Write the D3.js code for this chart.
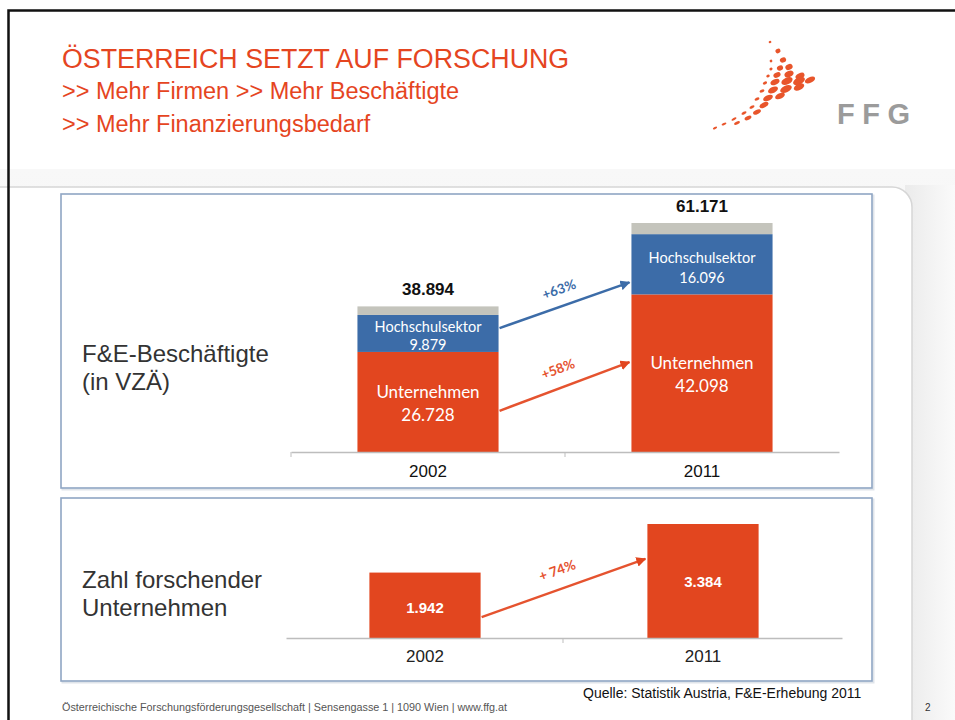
<!DOCTYPE html>
<html>
<head>
<meta charset="utf-8">
<title>Österreich setzt auf Forschung</title>
<script src="https://d3js.org/d3.v7.min.js"></script>
<style>
  body { margin: 0; background: #fff; }
  svg text { font-family: "Liberation Sans", Arial, sans-serif; }
  .cal { font-family: Lato, "Open Sans", sans-serif !important; }
</style>
</head>
<body>
<script>
// ---- data ----
var years = ["2002", "2011"];
var unternehmen = [26728, 42098];
var hochschule = [9879, 16096];
var totals = [38894, 61171];
var firmen = [1942, 3384];
// arrow anchors (value at left bar edge -> value at right bar edge)
var arrowHS = [33100, 45300];
var arrowUN = [11000, 24000];
var arrowFI = [620, 2350];

var W = 955, H = 720;
var red = "#e2461f", blue = "#3c6ca8", grey = "#c4c4bc";

var svg = d3.select("body").append("svg")
    .attr("width", W).attr("height", H);

var defs = svg.append("defs");
var g1 = defs.append("linearGradient").attr("id", "bgband").attr("x1", 0).attr("y1", 0).attr("x2", 0).attr("y2", 1);
g1.append("stop").attr("offset", 0).attr("stop-color", "#f8f8f8");
g1.append("stop").attr("offset", 1).attr("stop-color", "#ebebeb");
var g2 = defs.append("linearGradient").attr("id", "rside").attr("x1", 0).attr("y1", 0).attr("x2", 1).attr("y2", 0);
g2.append("stop").attr("offset", 0).attr("stop-color", "#ebebeb");
g2.append("stop").attr("offset", 1).attr("stop-color", "#fafafa");
["ah-blue", "ah-red"].forEach(function (id, i) {
  defs.append("marker").attr("id", id)
    .attr("viewBox", "0 0 10 10").attr("refX", 9).attr("refY", 5)
    .attr("markerWidth", 4).attr("markerHeight", 4).attr("orient", "auto")
    .append("path").attr("d", "M0,0L10,5L0,10z").attr("fill", i ? red : blue);
});

// ---- slide background ----
svg.append("rect").attr("x", 0).attr("y", 169).attr("width", W).attr("height", 551).attr("fill", "url(#bgband)");
svg.append("rect").attr("x", 905).attr("y", 185).attr("width", 50).attr("height", H - 185).attr("fill", "url(#rside)");
svg.append("rect").attr("x", -30).attr("y", 187).attr("width", 942).attr("height", 600).attr("rx", 20)
    .attr("fill", "#fff").attr("stroke", "#d6d6d6").attr("stroke-width", 1.5);

// black frame
svg.append("path").attr("d", "M8.5,720V10.5H955").attr("fill", "none").attr("stroke", "#111").attr("stroke-width", 2.5);

// ---- title ----
var title = svg.append("g").attr("fill", "#e5451f");
title.append("text").attr("x", 62).attr("y", 68).attr("font-size", 26.8).text("ÖSTERREICH SETZT AUF FORSCHUNG");
title.append("text").attr("x", 62).attr("y", 99).attr("font-size", 23.5).text(">> Mehr Firmen >> Mehr Beschäftigte");
title.append("text").attr("x", 62).attr("y", 132).attr("font-size", 23.5).text(">> Mehr Finanzierungsbedarf");

// ---- logo ----
var logoDots = [
  [770, 42, 1.4, 1.2], [778, 51, 2.6, 2.2], [771, 61, 1.4, 1.3], [783, 60, 3.2, 2.6],
  [771, 69, 1.6, 1.4], [780, 68, 3.2, 2.5], [789, 67, 3.8, 2.8],
  [768, 76, 1.8, 1.4], [777, 75, 3.8, 2.5], [789, 74, 4.8, 3], [800, 76, 4.8, 2.8],
  [765, 83, 2.2, 1.5], [775, 82, 4.8, 2.7], [787, 81, 6, 3.4], [799, 81, 6.3, 3.5], [810, 80, 5.5, 2.8],
  [762, 91, 2.5, 1.5], [773, 90, 5.3, 2.9], [786, 89, 6.2, 3.4], [799, 87, 5.6, 3.1],
  [757, 99, 2.6, 1.5], [768, 98, 5.2, 2.8], [780, 96, 5.2, 2.8],
  [752, 107, 2.7, 1.4], [764, 105, 4.8, 2.5],
  [744, 113, 2.7, 1.3], [757, 112, 4.2, 2.1],
  [734, 119, 2.7, 1.2], [748, 118, 3.7, 1.8],
  [724, 124, 2.6, 1.1], [737, 123, 3.2, 1.5], [715, 128, 2.3, 1]
];
svg.append("g").selectAll("ellipse").data(logoDots).join("ellipse")
  .attr("cx", function (d) { return d[0]; }).attr("cy", function (d) { return d[1]; })
  .attr("rx", function (d) { return d[2]; }).attr("ry", function (d) { return d[3]; })
  .attr("transform", function (d) { return "rotate(-25," + d[0] + "," + d[1] + ")"; })
  .attr("fill", "#e8552b");
svg.append("text").attr("x", 837).attr("y", 124).attr("font-size", 29).attr("font-weight", "bold")
  .attr("letter-spacing", 7.5).attr("fill", "#9b9b9b").text("FFG");

// ---- panel boxes ----
function box(x, y, w, h) {
  svg.append("rect").attr("x", x + 1.5).attr("y", y + 1.5).attr("width", w).attr("height", h)
    .attr("fill", "none").attr("stroke", "#dfe4ea").attr("stroke-width", 2);
  svg.append("rect").attr("x", x).attr("y", y).attr("width", w).attr("height", h)
    .attr("fill", "#fff").attr("stroke", "#8fa6c4").attr("stroke-width", 1.6);
}
box(61, 194, 811, 294);
box(61, 498, 811, 183);

// ---- top chart: F&E-Beschäftigte ----
var x1 = d3.scaleBand().domain(years).range([291, 839]).paddingInner(0.485).paddingOuter(0.2425);
var y1 = d3.scaleLinear().domain([0, 61171]).range([452, 223]);

var stack = years.map(function (yr, i) {
  return [
    { key: "un", y0: 0, y1: unternehmen[i], c: red },
    { key: "hs", y0: unternehmen[i], y1: unternehmen[i] + hochschule[i], c: blue },
    { key: "so", y0: unternehmen[i] + hochschule[i], y1: totals[i], c: grey }
  ].map(function (s) { s.year = yr; return s; });
});
svg.append("g").selectAll("rect").data(d3.merge(stack)).join("rect")
  .attr("x", function (d) { return x1(d.year); })
  .attr("width", x1.bandwidth())
  .attr("y", function (d) { return y1(d.y1); })
  .attr("height", function (d) { return y1(d.y0) - y1(d.y1); })
  .attr("fill", function (d) { return d.c; });

var ax1 = svg.append("g").attr("transform", "translate(0," + y1(0) + ")")
  .call(d3.axisBottom(x1).tickSize(0).tickPadding(13));
ax1.select(".domain").attr("stroke", "#bdbdbd").attr("stroke-width", 1.5);
ax1.selectAll("text").attr("font-size", 17).attr("fill", "#111")
  .attr("font-family", "'Liberation Sans', Arial, sans-serif");
ax1.selectAll(".sep").data([291, 565]).join("line").attr("class", "sep")
  .attr("x1", function (d) { return d; }).attr("x2", function (d) { return d; })
  .attr("y1", 0).attr("y2", 5).attr("stroke", "#bdbdbd");

// totals
svg.append("g").selectAll("text").data(totals).join("text")
  .attr("x", function (d, i) { return x1(years[i]) + x1.bandwidth() / 2; })
  .attr("y", function (d) { return y1(d) - 11; })
  .attr("text-anchor", "middle").attr("font-size", 17).attr("font-weight", "bold").attr("fill", "#111")
  .text(function (d) { return d3.format(",")(d).replace(/,/g, "."); });

// inner labels
function inner(vals, base, name, off1, off2, size) {
  var gg = svg.append("g").attr("fill", "#fff").attr("text-anchor", "middle");
  vals.forEach(function (v, i) {
    var cx = x1(years[i]) + x1.bandwidth() / 2;
    var mid = y1(base[i] + v / 2);
    gg.append("text").attr("class", "cal").attr("x", cx).attr("y", mid + off1[i]).attr("font-size", size).text(name);
    gg.append("text").attr("class", "cal").attr("x", cx).attr("y", mid + off2[i]).attr("font-size", size)
      .text(d3.format(",")(v).replace(/,/g, "."));
  });
}
inner(hochschule, unternehmen, "Hochschulsektor", [-1, -1], [17, 19], 14.5);
inner(unternehmen, [0, 0], "Unternehmen", [-4, -4], [19, 19], 17);

// growth arrows
function arrow(xs, ys, a, color, marker, label, dy) {
  var xa = xs(years[0]) + xs.bandwidth() + 1, xb = xs(years[1]) - 2;
  var ya = ys(a[0]), yb = ys(a[1]);
  svg.append("line").attr("x1", xa).attr("y1", ya).attr("x2", xb).attr("y2", yb)
    .attr("stroke", color).attr("stroke-width", 2.5).attr("marker-end", "url(#" + marker + ")");
  var ang = Math.atan2(yb - ya, xb - xa) * 180 / Math.PI;
  var mx = (xa + xb) / 2, my = (ya + yb) / 2;
  svg.append("text").attr("class", "cal")
    .attr("transform", "translate(" + mx + "," + my + ") rotate(" + ang + ") translate(0," + dy + ")")
    .attr("text-anchor", "middle").attr("font-size", 13.5).attr("font-weight", "bold").attr("fill", color)
    .text(label);
}
var pct = function (a, b) { return "+" + Math.round((b / a - 1) * 100) + "%"; };
arrow(x1, y1, arrowHS, blue, "ah-blue", pct(hochschule[0], hochschule[1]), -12);
arrow(x1, y1, arrowUN, "#e5532f", "ah-red", pct(unternehmen[0], unternehmen[1]), -14);

// left labels
var ll = svg.append("g").attr("fill", "#333").attr("font-size", 24);
ll.append("text").attr("x", 82).attr("y", 362).text("F&E-Beschäftigte");
ll.append("text").attr("x", 82).attr("y", 390).text("(in VZÄ)");

// ---- bottom chart: Zahl forschender Unternehmen ----
var x2 = d3.scaleBand().domain(years).range([286, 842]).paddingInner(0.6).paddingOuter(0.3);
var y2 = d3.scaleLinear().domain([0, 3384]).range([638, 524]);

svg.append("g").selectAll("rect").data(firmen).join("rect")
  .attr("x", function (d, i) { return x2(years[i]); })
  .attr("width", x2.bandwidth())
  .attr("y", function (d) { return y2(d); })
  .attr("height", function (d) { return y2(0) - y2(d); })
  .attr("fill", red);

svg.append("g").selectAll("text").data(firmen).join("text")
  .attr("x", function (d, i) { return x2(years[i]) + x2.bandwidth() / 2; })
  .attr("y", function (d) { return y2(d) + (d > 3000 ? 63 : 40); })
  .attr("text-anchor", "middle").attr("font-size", 15).attr("font-weight", "bold").attr("fill", "#fff")
  .text(function (d) { return d3.format(",")(d).replace(/,/g, "."); });

var ax2 = svg.append("g").attr("transform", "translate(0," + y2(0) + ")")
  .call(d3.axisBottom(x2).tickSize(0).tickPadding(12));
ax2.select(".domain").attr("stroke", "#bdbdbd").attr("stroke-width", 1.5);
ax2.selectAll("text").attr("font-size", 17).attr("fill", "#222")
  .attr("font-family", "'Liberation Sans', Arial, sans-serif");
ax2.selectAll(".sep").data([563]).join("line").attr("class", "sep")
  .attr("x1", function (d) { return d; }).attr("x2", function (d) { return d; })
  .attr("y1", 0).attr("y2", 5).attr("stroke", "#bdbdbd");

arrow(x2, y2, arrowFI, "#e5532f", "ah-red", "+ " + pct(firmen[0], firmen[1]).slice(1), -14);

var ll2 = svg.append("g").attr("fill", "#333").attr("font-size", 24);
ll2.append("text").attr("x", 82).attr("y", 588).text("Zahl forschender");
ll2.append("text").attr("x", 82).attr("y", 616).text("Unternehmen");

// ---- footer ----
svg.append("text").attr("x", 583).attr("y", 698).attr("font-size", 14).attr("fill", "#111")
  .attr("font-family", "'Liberation Sans Narrow', 'Arial Narrow', sans-serif")
  .text("Quelle: Statistik Austria, F&E-Erhebung 2011");
svg.append("text").attr("x", 62).attr("y", 711).attr("font-size", 10.8).attr("fill", "#555")
  .attr("font-family", "'Liberation Sans Narrow', 'Arial Narrow', sans-serif")
  .text("Österreichische Forschungsförderungsgesellschaft | Sensengasse 1 | 1090 Wien | www.ffg.at");
svg.append("text").attr("x", 925).attr("y", 711).attr("font-size", 10).attr("fill", "#333").text("2");
</script>
</body>
</html>
